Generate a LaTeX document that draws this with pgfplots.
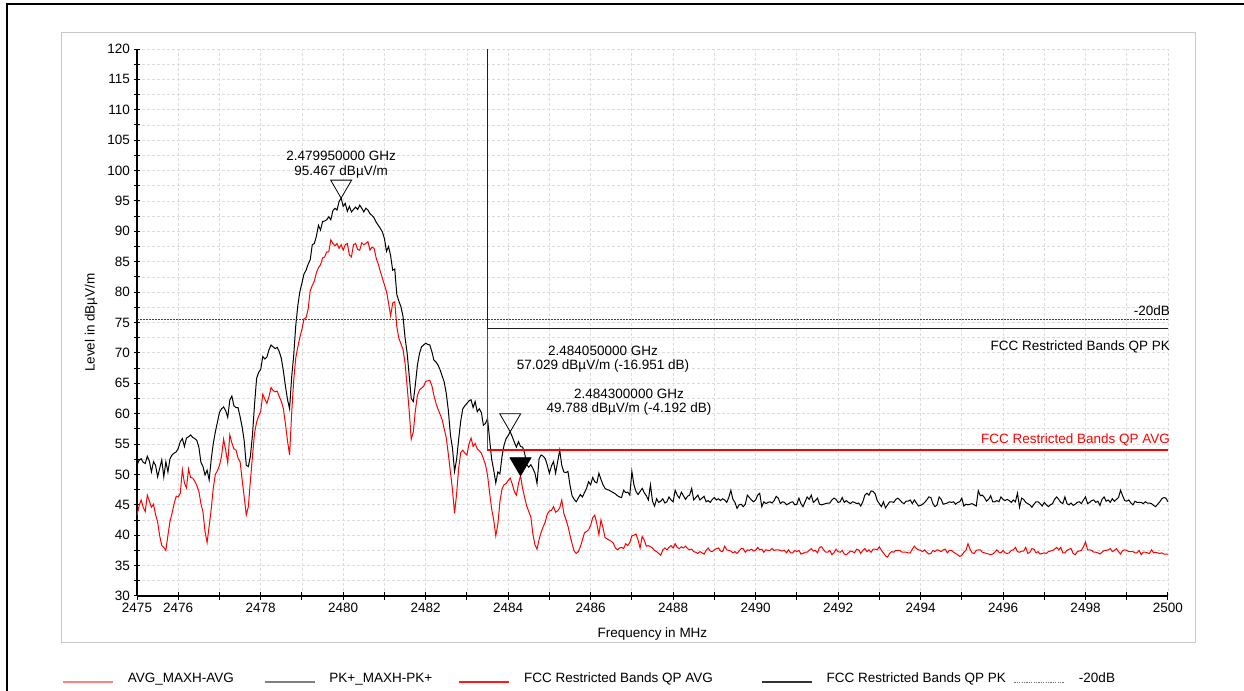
\documentclass[border=0pt]{standalone}
\usepackage{fontspec}
\setmainfont{Liberation Sans}
\usepackage{pgfplots}
\usepackage{pgfplotstable}
\pgfplotsset{compat=1.18}

\definecolor{avgred}{RGB}{255,0,0}
\definecolor{limitpk}{RGB}{30,30,30}
\definecolor{gridgray}{RGB}{220,220,220}
\definecolor{framegray}{RGB}{200,200,200}

% marker triangles with their apex on the data point
\pgfdeclareplotmark{markopen}{%
  \pgfpathmoveto{\pgfpointorigin}%
  \pgfpathlineto{\pgfpoint{-10.5bp}{18bp}}%
  \pgfpathlineto{\pgfpoint{10.5bp}{18bp}}%
  \pgfpathclose
  \pgfusepathqstroke}
\pgfdeclareplotmark{markfilled}{%
  \pgfpathmoveto{\pgfpointorigin}%
  \pgfpathlineto{\pgfpoint{-10.5bp}{18bp}}%
  \pgfpathlineto{\pgfpoint{10.5bp}{18bp}}%
  \pgfpathclose
  \pgfusepathqfillstroke}

% sweep 2475-2500 MHz: peak (PK+) and average (AVG) max-hold traces
\pgfplotstableread{
f pk avg
2475.00 51.6 43.3
2475.05 52.3 44.8
2475.10 52.6 45.8
2475.15 52.0 44.6
2475.20 51.8 43.9
2475.25 53.0 46.6
2475.30 52.2 45.6
2475.35 50.4 44.6
2475.40 52.1 45.1
2475.45 51.5 43.4
2475.50 49.6 42.2
2475.55 51.0 39.9
2475.60 52.4 38.3
2475.65 49.6 38.0
2475.70 52.1 37.5
2475.75 50.4 40.0
2475.80 52.6 42.3
2475.85 53.2 43.6
2475.90 53.5 45.2
2475.95 53.7 46.4
2476.00 54.3 46.3
2476.05 55.4 46.9
2476.10 55.9 50.8
2476.15 54.6 48.6
2476.20 56.0 47.8
2476.25 56.2 50.9
2476.30 56.5 49.5
2476.35 56.1 49.4
2476.40 55.9 48.9
2476.45 55.6 48.2
2476.50 54.5 47.2
2476.55 52.0 45.2
2476.60 51.3 43.8
2476.65 49.9 40.6
2476.70 50.7 38.8
2476.75 49.1 41.5
2476.80 52.5 44.3
2476.85 55.1 47.8
2476.90 57.0 50.0
2476.95 58.6 50.6
2477.00 60.2 51.5
2477.05 60.8 53.0
2477.10 61.1 55.8
2477.15 60.5 54.0
2477.20 59.4 51.9
2477.25 62.2 56.5
2477.30 62.9 55.2
2477.35 61.3 54.2
2477.40 61.0 54.0
2477.45 61.0 52.7
2477.50 59.5 52.1
2477.55 57.8 49.1
2477.60 55.5 46.3
2477.65 51.5 43.3
2477.70 51.3 44.7
2477.75 53.0 49.0
2477.80 56.5 53.0
2477.85 61.5 56.8
2477.90 65.8 58.6
2477.95 66.8 59.6
2478.00 67.3 60.4
2478.05 69.4 63.2
2478.10 69.0 62.4
2478.15 69.3 61.7
2478.20 70.5 62.8
2478.25 71.3 64.3
2478.30 71.0 63.8
2478.35 70.7 63.6
2478.40 70.9 63.7
2478.45 70.2 62.8
2478.50 69.1 62.0
2478.55 67.0 60.8
2478.60 64.5 58.3
2478.65 62.3 55.5
2478.70 60.8 53.2
2478.75 66.0 60.0
2478.80 69.6 65.5
2478.85 74.5 69.2
2478.90 77.8 71.0
2478.95 80.1 72.6
2479.00 81.5 73.9
2479.05 83.0 75.6
2479.10 83.6 75.8
2479.15 84.6 77.2
2479.20 85.3 80.2
2479.25 87.8 81.1
2479.30 88.0 81.8
2479.35 89.2 83.2
2479.40 91.0 84.0
2479.45 90.2 84.5
2479.50 91.6 85.6
2479.55 91.7 85.8
2479.60 91.9 86.6
2479.65 92.4 86.6
2479.70 91.9 88.6
2479.75 93.4 88.0
2479.80 93.8 87.6
2479.85 93.5 88.0
2479.90 94.9 87.2
2479.95 95.467 87.8
2480.00 94.1 86.9
2480.05 94.6 87.8
2480.10 93.3 88.0
2480.15 94.1 86.1
2480.20 93.2 85.8
2480.25 93.6 87.8
2480.30 94.0 88.0
2480.35 93.6 87.0
2480.40 94.3 86.9
2480.45 93.8 88.1
2480.50 93.2 87.8
2480.55 93.8 88.0
2480.60 93.5 88.3
2480.65 92.9 86.9
2480.70 92.6 87.4
2480.75 92.2 87.2
2480.80 91.5 85.6
2480.85 91.0 84.6
2480.90 90.5 83.4
2480.95 89.9 82.3
2481.00 88.8 81.2
2481.05 86.7 80.1
2481.10 87.5 78.2
2481.15 86.0 76.1
2481.20 83.6 78.2
2481.25 83.8 78.4
2481.30 79.6 74.3
2481.35 78.5 72.4
2481.40 77.6 71.5
2481.45 76.0 70.6
2481.50 72.5 68.3
2481.55 70.0 64.5
2481.60 66.3 60.5
2481.65 62.5 55.8
2481.70 62.0 57.0
2481.75 64.8 60.5
2481.80 68.0 63.0
2481.85 69.9 63.9
2481.90 71.0 64.2
2481.95 71.3 64.5
2482.00 71.6 65.3
2482.05 71.4 65.4
2482.10 71.3 65.5
2482.15 70.2 64.6
2482.20 68.8 63.0
2482.25 68.5 61.7
2482.30 68.0 60.7
2482.35 67.2 59.9
2482.40 66.2 59.0
2482.45 65.2 57.5
2482.50 63.3 56.0
2482.55 60.5 53.3
2482.60 56.5 50.4
2482.65 54.3 47.5
2482.70 50.5 43.6
2482.75 52.5 46.8
2482.80 55.8 51.0
2482.85 58.8 53.6
2482.90 60.8 54.0
2482.95 61.3 53.5
2483.00 61.7 53.2
2483.05 62.1 55.0
2483.10 62.3 56.0
2483.15 61.0 54.6
2483.20 62.0 55.1
2483.25 60.3 54.2
2483.30 60.8 53.9
2483.35 60.2 53.5
2483.40 58.1 52.6
2483.45 58.4 51.6
2483.50 59.2 49.9
2483.55 55.8 47.0
2483.60 52.5 44.3
2483.65 50.7 42.5
2483.70 48.6 39.9
2483.75 50.4 41.8
2483.80 50.1 45.5
2483.85 52.9 47.6
2483.90 54.8 48.3
2483.95 55.9 48.5
2484.00 56.4 49.0
2484.05 57.029 49.4
2484.10 56.2 48.4
2484.15 55.3 47.2
2484.20 54.5 46.6
2484.25 55.4 48.5
2484.30 54.6 49.788
2484.35 54.5 47.7
2484.40 53.5 46.2
2484.45 51.6 44.8
2484.50 51.2 43.9
2484.55 51.6 43.0
2484.60 51.0 40.2
2484.65 50.2 38.4
2484.70 48.5 37.7
2484.75 52.6 39.3
2484.80 53.2 40.5
2484.85 53.0 41.4
2484.90 52.6 42.2
2484.95 51.5 43.5
2485.00 50.2 44.0
2485.05 51.4 44.1
2485.10 52.1 44.7
2485.15 50.2 43.8
2485.20 52.1 44.0
2485.25 54.0 44.5
2485.30 51.5 45.8
2485.35 50.4 43.6
2485.40 50.3 42.6
2485.45 50.5 41.5
2485.50 48.2 40.0
2485.55 46.5 38.6
2485.60 45.9 37.4
2485.65 45.5 37.0
2485.70 46.1 37.3
2485.75 46.7 38.1
2485.80 46.3 39.2
2485.85 47.0 40.4
2485.90 47.7 40.6
2485.95 48.8 40.9
2486.00 48.3 41.6
2486.05 49.5 42.9
2486.10 48.8 43.3
2486.15 48.6 41.9
2486.20 50.2 40.1
2486.25 49.2 42.5
2486.30 48.3 41.2
2486.35 47.7 39.6
2486.40 47.5 39.4
2486.45 47.4 39.2
2486.50 47.2 39.0
2486.55 47.0 38.7
2486.60 46.8 37.9
2486.65 46.5 37.6
2486.70 46.3 37.9
2486.75 46.2 38.0
2486.80 47.4 37.8
2486.85 47.0 38.6
2486.90 47.1 38.3
2486.95 46.6 38.8
2487.00 50.5 39.9
2487.05 48.3 40.0
2487.10 47.2 40.2
2487.15 46.7 39.2
2487.20 47.2 37.9
2487.25 47.7 39.8
2487.30 47.0 39.2
2487.35 46.5 38.2
2487.40 45.8 38.3
2487.45 48.3 38.1
2487.50 45.6 37.9
2487.55 44.8 37.5
2487.60 46.0 37.3
2487.65 45.4 37.0
2487.70 45.6 36.7
2487.75 46.0 37.6
2487.80 45.3 37.9
2487.85 45.5 37.6
2487.90 46.3 38.0
2487.95 45.8 38.3
2488.00 45.5 37.9
2488.05 47.4 38.6
2488.10 46.6 38.0
2488.15 46.1 37.8
2488.20 47.1 38.1
2488.25 46.5 37.9
2488.30 45.9 38.2
2488.35 46.4 37.8
2488.40 46.6 37.6
2488.45 47.7 37.7
2488.50 45.8 37.3
2488.55 46.2 37.2
2488.60 46.6 37.0
2488.65 45.8 37.3
2488.70 46.1 37.1
2488.75 46.4 36.9
2488.80 45.5 37.5
2488.85 45.7 37.9
2488.90 45.4 37.4
2488.95 45.9 37.3
2489.00 46.2 37.6
2489.05 45.8 37.8
2489.10 46.0 37.9
2489.15 45.7 37.4
2489.20 46.0 37.3
2489.25 45.8 38.2
2489.30 45.4 37.6
2489.35 46.2 37.5
2489.40 47.4 37.4
2489.45 45.9 37.1
2489.50 45.4 37.3
2489.55 44.4 37.0
2489.60 45.0 37.4
2489.65 45.1 37.8
2489.70 44.7 37.8
2489.75 45.1 37.2
2489.80 46.6 37.6
2489.85 46.2 37.5
2489.90 45.8 37.7
2489.95 45.5 37.4
2490.00 45.8 37.5
2490.05 46.6 38.0
2490.10 46.9 37.6
2490.15 44.7 37.7
2490.20 45.5 37.2
2490.25 45.2 37.6
2490.30 45.4 37.5
2490.35 45.5 37.5
2490.40 45.3 37.8
2490.45 45.7 37.5
2490.50 46.4 37.6
2490.55 46.1 37.6
2490.60 45.2 37.5
2490.65 45.5 37.4
2490.70 45.4 37.5
2490.75 45.0 37.1
2490.80 45.2 37.6
2490.85 45.4 37.1
2490.90 45.5 37.1
2490.95 45.0 37.5
2491.00 45.1 37.3
2491.05 46.1 37.5
2491.10 45.2 36.9
2491.15 44.7 37.0
2491.20 45.5 37.2
2491.25 46.3 37.2
2491.30 45.9 37.5
2491.35 46.6 37.8
2491.40 45.4 37.4
2491.45 45.7 37.5
2491.50 46.1 37.1
2491.55 45.1 38.0
2491.60 45.0 38.1
2491.65 45.1 37.6
2491.70 45.2 37.2
2491.75 45.3 37.2
2491.80 45.3 37.5
2491.85 45.8 36.8
2491.90 46.1 37.1
2491.95 45.9 37.7
2492.00 45.4 37.3
2492.05 45.5 37.2
2492.10 46.2 37.5
2492.15 45.4 36.9
2492.20 45.7 36.8
2492.25 45.4 37.1
2492.30 45.2 37.4
2492.35 45.5 37.3
2492.40 45.4 37.1
2492.45 45.2 37.7
2492.50 45.3 37.6
2492.55 44.8 37.0
2492.60 45.5 37.5
2492.65 46.6 37.8
2492.70 46.9 37.3
2492.75 46.6 37.6
2492.80 47.3 37.2
2492.85 47.2 37.7
2492.90 46.8 37.7
2492.95 45.7 37.6
2493.00 45.2 38.1
2493.05 44.7 37.5
2493.10 45.5 37.1
2493.15 44.5 36.6
2493.20 45.0 36.4
2493.25 45.5 37.0
2493.30 45.5 37.3
2493.35 45.4 37.2
2493.40 45.9 37.5
2493.45 46.1 37.5
2493.50 45.8 37.5
2493.55 45.4 37.2
2493.60 45.2 37.2
2493.65 45.6 37.2
2493.70 45.6 37.1
2493.75 45.8 37.1
2493.80 45.2 37.7
2493.85 45.8 38.2
2493.90 45.3 37.8
2493.95 44.8 37.6
2494.00 44.9 37.5
2494.05 45.1 37.3
2494.10 45.4 37.6
2494.15 45.8 37.2
2494.20 46.3 36.9
2494.25 46.2 37.0
2494.30 45.2 37.5
2494.35 44.7 37.3
2494.40 45.0 37.6
2494.45 46.3 37.5
2494.50 45.9 37.3
2494.55 45.1 37.6
2494.60 45.2 37.7
2494.65 45.3 37.1
2494.70 45.5 37.5
2494.75 45.4 37.5
2494.80 45.5 37.2
2494.85 45.1 37.0
2494.90 45.4 36.8
2494.95 45.5 36.5
2495.00 46.1 36.7
2495.05 44.8 37.2
2495.10 45.1 37.5
2495.15 45.0 38.6
2495.20 45.1 37.7
2495.25 45.2 37.1
2495.30 45.0 37.0
2495.35 44.8 37.5
2495.40 47.3 37.6
2495.45 46.5 37.6
2495.50 46.6 37.2
2495.55 46.2 37.1
2495.60 45.6 37.0
2495.65 45.9 36.9
2495.70 46.5 36.8
2495.75 45.5 36.9
2495.80 45.5 37.2
2495.85 45.7 37.6
2495.90 45.5 37.2
2495.95 46.3 37.1
2496.00 45.9 37.5
2496.05 45.7 37.1
2496.10 45.9 37.0
2496.15 45.7 37.1
2496.20 45.4 37.5
2496.25 45.8 37.6
2496.30 45.5 38.0
2496.35 46.9 37.3
2496.40 44.6 37.2
2496.45 46.1 37.4
2496.50 45.9 37.4
2496.55 45.4 38.0
2496.60 45.2 37.0
2496.65 45.0 37.2
2496.70 44.6 37.8
2496.75 45.1 37.7
2496.80 45.5 37.1
2496.85 45.5 37.3
2496.90 45.2 36.9
2496.95 44.8 37.0
2497.00 45.4 37.1
2497.05 45.0 37.0
2497.10 44.7 37.3
2497.15 45.0 37.4
2497.20 45.2 37.5
2497.25 45.9 37.7
2497.30 46.3 38.0
2497.35 45.9 37.6
2497.40 45.4 38.0
2497.45 45.2 37.1
2497.50 46.3 37.1
2497.55 45.2 37.5
2497.60 45.0 37.7
2497.65 45.3 37.8
2497.70 44.9 37.0
2497.75 45.1 36.8
2497.80 45.4 37.3
2497.85 45.5 37.4
2497.90 45.2 37.5
2497.95 45.8 38.1
2498.00 46.3 38.9
2498.05 45.2 37.6
2498.10 45.4 37.6
2498.15 45.7 37.5
2498.20 45.8 37.2
2498.25 45.4 37.2
2498.30 45.6 37.1
2498.35 44.9 36.9
2498.40 45.9 37.2
2498.45 46.3 37.5
2498.50 45.6 37.5
2498.55 45.8 37.6
2498.60 45.4 37.8
2498.65 46.0 37.3
2498.70 45.6 37.5
2498.75 45.9 37.8
2498.80 46.2 37.3
2498.85 47.4 36.9
2498.90 46.5 37.5
2498.95 45.7 37.6
2499.00 45.6 37.5
2499.05 45.8 37.3
2499.10 45.3 37.3
2499.15 45.0 37.3
2499.20 45.6 37.1
2499.25 45.4 37.1
2499.30 45.4 37.5
2499.35 45.4 36.8
2499.40 45.2 37.2
2499.45 45.5 37.2
2499.50 45.3 37.1
2499.55 45.3 37.0
2499.60 45.2 37.6
2499.65 44.9 37.1
2499.70 44.7 37.2
2499.75 45.1 37.1
2499.80 45.5 37.0
2499.85 46.0 37.1
2499.90 46.2 36.9
2499.95 46.1 36.9
2500.00 45.5 36.9
}\spectrum

\begin{document}
\begin{tikzpicture}[font=\fontsize{13.5bp}{16bp}\selectfont]
\useasboundingbox (0,0) rectangle (1244bp,691bp);
% page frame and light chart frame
\draw[black, line width=2bp] (7.3bp,-5bp) -- (7.3bp,687bp) -- (1250bp,687bp);
\draw[framegray, line width=1bp] (61bp,48bp) rectangle (1195bp,658bp);
\begin{axis}[
  at={(137bp,95bp)}, anchor=south west,
  width=1031bp, height=547bp, scale only axis,
  xmin=2475, xmax=2500, ymin=30, ymax=120,
  clip=false,
  axis x line*=bottom, axis y line*=left,
  axis line style={black, line width=1.3bp},
  xtick={2475,2476,...,2500},
  xticklabels={2475,2476,,2478,,2480,,2482,,2484,,2486,,2488,,2490,,2492,,2494,,2496,,2498,,2500},
  ytick={30,35,...,120},
  minor ytick={32.5,37.5,...,117.5},
  grid=both,
  major grid style={gridgray, dash pattern=on 3bp off 2bp, line width=0.8bp},
  minor grid style={gridgray, dash pattern=on 3bp off 2bp, line width=0.8bp},
  tick align=center,
  major tick length=7bp, minor tick length=7bp,
  every tick/.style={black, line width=1bp},
  /pgf/number format/assume math mode=true,
  xlabel={Frequency in MHz},
  ylabel={Level in dBµV/m},
  xlabel style={at={(axis description cs:0.5,-0.0695)}, anchor=center},
  ylabel style={at={(axis description cs:-0.0446,0.5)}, anchor=center},
  legend columns=5,
  legend image code/.code={\draw[#1] (0bp,0bp) -- (50bp,0bp);},
  legend style={draw=none, fill=none, inner sep=0pt,
    at={(axis description cs:-0.0727,-0.1499)}, anchor=west,
    nodes={inner sep=0pt, anchor=base west},
    /tikz/every odd column/.style={column sep=14bp},
    /tikz/column 2/.style={column sep=30bp},
    /tikz/column 4/.style={column sep=26bp},
    /tikz/column 6/.style={column sep=48bp},
    /tikz/column 8/.style={column sep=8bp}},
]
% traces
\addplot[avgred, line width=1bp, forget plot] table[x=f, y=avg] {\spectrum};
\addplot[black, line width=1bp, forget plot] table[x=f, y=pk] {\spectrum};

% restricted-band limits and the -20 dB reference
\addplot[black!75, dash pattern=on 1.6bp off 1.4bp, line width=1.3bp, forget plot]
  coordinates {(2475,75.467) (2500,75.467)};
\addplot[limitpk, line width=1.8bp, forget plot]
  coordinates {(2483.5,120) (2483.5,74) (2500,74)};
\addplot[avgred, line width=1.8bp, forget plot]
  coordinates {(2483.5,74) (2483.5,54) (2500,54)};

% markers
\addplot[only marks, mark=markopen, black, line width=0.8bp, forget plot]
  coordinates {(2479.95,95.467) (2484.05,57.029)};
\addplot[only marks, mark=markfilled, black, line width=0.8bp, forget plot]
  coordinates {(2484.3,49.788)};

% marker read-outs
\node[anchor=base, inner sep=0pt] at (axis cs:2479.95,101.62) {2.479950000 GHz};
\node[anchor=base, inner sep=0pt] at (axis cs:2479.95,99.18) {95.467 dBµV/m};
\node[anchor=base, inner sep=0pt] at (axis cs:2486.30,69.60) {2.484050000 GHz};
\node[anchor=base, inner sep=0pt] at (axis cs:2486.30,67.23) {57.029 dBµV/m (-16.951 dB)};
\node[anchor=base, inner sep=0pt] at (axis cs:2486.93,62.48) {2.484300000 GHz};
\node[anchor=base, inner sep=0pt] at (axis cs:2486.93,60.11) {49.788 dBµV/m (-4.192 dB)};

% limit line names
\node[anchor=base east, inner sep=0pt] at (axis cs:2500.05,76.07) {-20dB};
\node[anchor=base east, inner sep=0pt] at (axis cs:2500.05,70.36) {FCC Restricted Bands QP PK};
\node[anchor=base east, inner sep=0pt, text=avgred] at (axis cs:2500.05,55.12) {FCC Restricted Bands QP AVG};

% legend
\addlegendimage{color=red!50, line width=1.6bp}
\addlegendentry{AVG\_MAXH-AVG}
\addlegendimage{color=black!50, line width=1.6bp}
\addlegendentry{PK+\_MAXH-PK+}
\addlegendimage{color=red!90, line width=1.8bp}
\addlegendentry{FCC Restricted Bands QP AVG}
\addlegendimage{color=black!80, line width=1.8bp}
\addlegendentry{FCC Restricted Bands QP PK}
\addlegendimage{color=black!55, dash pattern=on 1.2bp off 1.2bp, line width=1bp}
\addlegendentry{-20dB}
\end{axis}
\end{tikzpicture}
\end{document}
